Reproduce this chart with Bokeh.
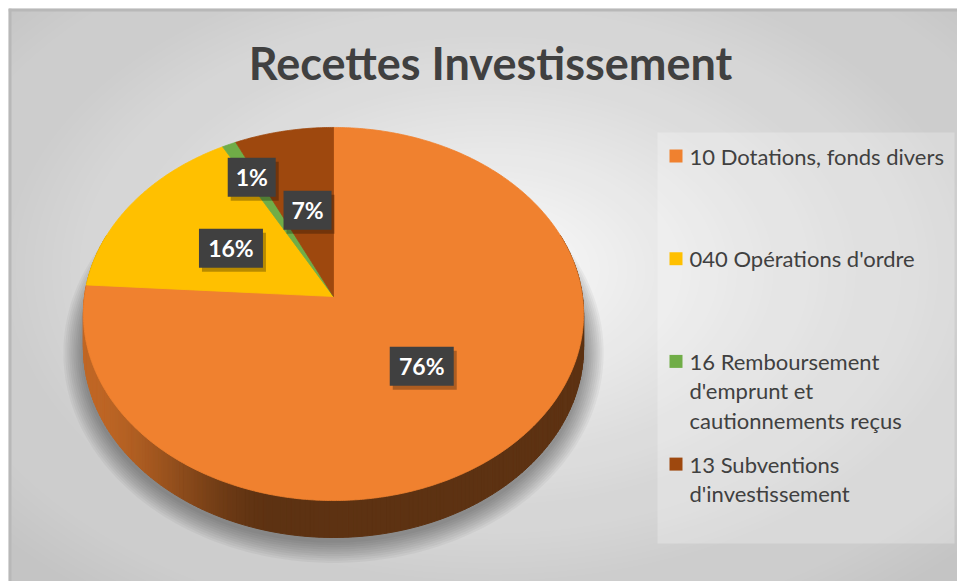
import numpy as np
from bokeh.plotting import figure
from bokeh.models import Range1d, ColumnDataSource
from bokeh.core.properties import value
from bokeh.embed import file_html
from bokeh.resources import INLINE

# ---------------- data ----------------
title_text = "Recettes Investissement"
categories = [
    "10 Dotations, fonds divers",
    "040 Opérations d'ordre",
    "16 Remboursement\nd'emprunt et\ncautionnements reçus",
    "13 Subventions\nd'investissement",
]
shares = [76, 16, 1, 7]
colors = ["#f0812f", "#ffc000", "#70ad47", "#9e480e"]

# ---------------- layout constants ----------------
W, H = 957, 581
M = 8
CX, CY, RX, RY, K, DEPTH = 333.0, 296.0, 249.0, 184.9, -0.0938, 33.5
LABEL_FRAC = [0.5, 0.5, 0.77, 0.5]
FONT = value("Lato")
TXT = "#404040"

p = figure(width=W, height=H, x_range=Range1d(M, W), y_range=Range1d(H, M),
           output_backend="svg", toolbar_location=None,
           min_border_left=M, min_border_top=M, min_border_right=0, min_border_bottom=0,
           x_axis_type=None, y_axis_type=None,
           background_fill_color="#c4c4c4", border_fill_color="white",
           outline_line_color=None)
p.xgrid.visible = False
p.ygrid.visible = False

# ---------------- background radial gradient (rings) ----------------
N = 70
BX, BY, BRX, BRY = 490.0, 270.0, 640.0, 410.0
def target(d):
    return 0.96 * np.clip(1 - d, 0, 1) ** 0.75
ws, hs, als = [], [], []
prev = 0.0
for k in range(N):
    dk = 1 - k / N
    wk = target(dk - 0.5 / N)
    a = (wk - prev) / (1 - prev) if prev < 1 else 0
    prev = wk
    ws.append(2 * BRX * dk); hs.append(2 * BRY * dk); als.append(max(a, 0))
p.ellipse(x=BX, y=BY, width=ws, height=hs, fill_color="white", fill_alpha=als, line_color=None)

# chart border (top and left edges visible in the reference)
p.quad(left=[M, M], right=[W, M + 3], top=[M, M], bottom=[M + 3, H],
       fill_color="#b8b8b8", line_color=None)

# ---------------- pie geometry ----------------
def proj(theta_deg, f=1.0):
    t = np.radians(theta_deg)
    u = np.sin(t)
    s = -np.cos(t)
    den = 1 + K * f * s
    return CX + RX * f * u / den, CY + RY * f * s / den, den

total = float(sum(shares))
bounds = np.concatenate([[0.0], np.cumsum(shares) / total * 360.0])

def slice_of(th):
    for i in range(len(shares)):
        if bounds[i] <= th < bounds[i + 1]:
            return i
    return len(shares) - 1

# shadow
th_all = np.linspace(0, 360, 361)
bx, by, bd = proj(th_all)
by = by + DEPTH / bd
ycen = CY + DEPTH
sh_xs, sh_ys = [], []
for i in range(10, 0, -1):
    e = 2.0 * i
    sh_xs.append(list(CX + (bx - CX) * (1 + e / RX)))
    sh_ys.append(list(ycen + (by - ycen) * (1 + e / RY) + 3))
p.patches(xs=sh_xs, ys=sh_ys, fill_color="black", fill_alpha=0.04, line_color=None)

# side wall
def hex_to_rgb(h):
    h = h.lstrip("#")
    return tuple(int(h[i:i + 2], 16) for i in (0, 2, 4))

side_xs, side_ys, side_cols = [], [], []
step = 1.0
for th in np.arange(0, 360, step):
    mid = th + step / 2
    if -np.cos(np.radians(mid)) < -0.35:
        continue
    x1, y1, d1 = proj(th)
    x2, y2, d2 = proj(th + step)
    idx = slice_of(mid)
    xm = (x1 + x2) / 2
    t = np.clip((xm - (CX - RX)) / 190.0, 0, 1)
    t = t * t * (3 - 2 * t)
    fac = 0.80 - 0.41 * t
    r, g, b = hex_to_rgb(colors[idx])
    side_cols.append("#%02x%02x%02x" % (int(r * fac), int(g * fac), int(b * fac)))
    side_xs.append([x1, x2, x2, x1])
    side_ys.append([y1, y2, y2 + DEPTH / d2, y1 + DEPTH / d1])
p.patches(xs=side_xs, ys=side_ys, fill_color=side_cols, line_color=side_cols, line_width=1)

# top face
top_xs, top_ys = [], []
for i in range(len(shares)):
    a0, a1 = bounds[i], bounds[i + 1]
    n = max(3, int((a1 - a0) * 2))
    ths = np.linspace(a0, a1, n)
    xs, ys, _ = proj(ths)
    top_xs.append([CX] + list(xs))
    top_ys.append([CY] + list(ys))
p.patches(xs=top_xs, ys=top_ys, fill_color=colors, line_color=colors, line_width=0.8)

# data labels
lx, ly, ltxt, lw = [], [], [], []
for i in range(len(shares)):
    mid = (bounds[i] + bounds[i + 1]) / 2
    x, y, _ = proj(mid, LABEL_FRAC[i])
    txt = "%d%%" % round(shares[i] / total * 100)
    lx.append(x); ly.append(y); ltxt.append(txt); lw.append(16 + 16 * len(txt))
lsrc = ColumnDataSource(dict(x=lx, y=ly, text=ltxt, w=lw,
                             xs=[v + 3 for v in lx], ys=[v + 4 for v in ly]))
p.rect(x="xs", y="ys", width="w", height=39, source=lsrc, fill_color="black", fill_alpha=0.28, line_color=None)
p.rect(x="x", y="y", width="w", height=39, source=lsrc, fill_color="#404040", line_color=None)
p.text(x="x", y="y", text="text", source=lsrc, text_color="white", text_font=FONT,
       text_font_style="bold", text_font_size="23px", text_align="center", text_baseline="middle")

# title
p.text(x=[490], y=[62], text=[title_text], text_color=TXT, text_font=FONT, text_font_style="bold",
       text_font_size="45px", text_align="center", text_baseline="middle")

# legend
p.quad(left=[657], right=[954], top=[132], bottom=[543], fill_color="white", fill_alpha=0.25, line_color=None)
LEG_Y0, LEG_DY, LINE_DY = 155.5, 102.7, 29.5
sq_x, sq_y, t_x, t_y, t_t = [], [], [], [], []
for i, cat in enumerate(categories):
    y0 = LEG_Y0 + i * LEG_DY
    sq_x.append(675.5); sq_y.append(y0)
    for j, line in enumerate(cat.split("\n")):
        t_x.append(689); t_y.append(y0 + j * LINE_DY); t_t.append(line)
p.rect(x=sq_x, y=sq_y, width=13, height=13, fill_color=colors, line_color=None)
p.text(x=t_x, y=t_y, text=t_t, text_color=TXT, text_font=FONT, text_font_size="22px",
       text_align="left", text_baseline="middle")

open("out.html", "w").write(file_html(p, INLINE))
